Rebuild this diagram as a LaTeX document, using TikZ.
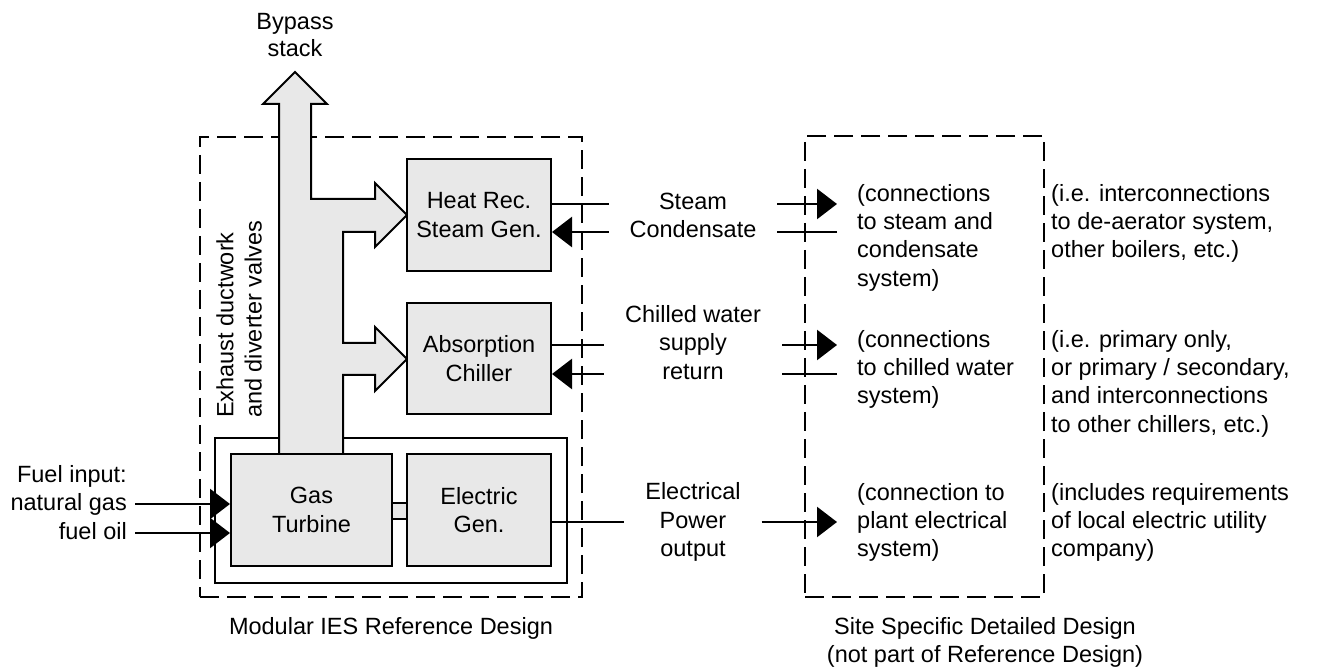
\documentclass[tikz,border=0pt]{standalone}
\usepackage{fontspec}
\setmainfont{Liberation Sans}
\usetikzlibrary{arrows.meta}
\definecolor{boxgray}{RGB}{232,232,232}

\begin{document}
\begin{tikzpicture}[x=1pt,y=-1pt,
  font=\fontsize{23.5}{28.3}\selectfont,
  unit/.style={draw,fill=boxgray,line width=2pt,align=center,inner sep=0pt,minimum width=144,minimum height=112},
  bound/.style={draw,dash pattern=on 19pt off 8pt,line width=2.2pt,inner sep=0pt},
  medium/.style={anchor=base,inner ysep=0pt,text height=17pt,text depth=5pt},
  note/.style={align=left,anchor=north west,inner ysep=0pt,inner xsep=20pt},
  flow/.style={line width=2.5pt},
  feed/.style={flow,-{Triangle[length=20pt,width=30pt]}}]
\useasboundingbox (0,0) rectangle (1318,668);

% design boundaries
\node[bound,minimum width=382,minimum height=460] (refdesign) at (391,367) {};
\node[bound,minimum width=239,minimum height=461] (sitedesign) at (924.5,366.5) {};
\node[anchor=north] (reflbl) at (391,614) {Modular IES Reference Design};
\node[anchor=north,align=center] (sitelbl) at (985,614) {Site Specific Detailed Design\\(not part of Reference Design)};

% skid and exhaust duct
\node[draw,line width=2pt,minimum width=352,minimum height=145] (skid) at (391,510.5) {};
\draw[fill=boxgray,line width=2pt] (279,454) -- (279,104) -- (263,104) -- (295,72) -- (327,104)
  -- (311,104) -- (311,199) -- (375,199) -- (375,183) -- (407,215) -- (375,247) -- (375,232)
  -- (343,232) -- (343,343) -- (375,343) -- (375,327) -- (407,359) -- (375,391) -- (375,375)
  -- (343,375) -- (343,454) -- cycle;
\node[anchor=north,align=center,font=\fontsize{23.5}{26.5}\selectfont] (bypass) at (295,10) {Bypass\\stack};
\node[rotate=90,anchor=west,align=left,inner sep=0pt] (exhaust) at (239,418) {Exhaust ductwork\\and diverter valves};

% equipment
\node[unit] (hrsg) at (479,215) {Heat Rec.\\Steam Gen.};
\node[unit,minimum height=111] (chiller) at (479,358.5) {Absorption\\Chiller};
\node[unit,minimum width=161] (gt) at (311.5,510) {Gas\\Turbine};
\node[unit] (egen) at (479,510) {Electric\\Gen.};
\node[unit,minimum width=15,minimum height=16] (coupling) at (399.5,511) {};

% fuel
\node[medium,anchor=base east,inner xsep=8pt] (fuel) at (135,482) {Fuel input:};
\node[medium,anchor=base east,inner xsep=8pt] (gas) at (135,510) {natural gas};
\node[medium,anchor=base east,inner xsep=8pt] (oil) at (135,539) {fuel oil};
\draw[feed] (gas.east) -- (gas.east -| gt.west);
\draw[feed] (oil.east) -- (oil.east -| gt.west);

% steam
\node[medium,minimum width=168] (steam) at (693,210) {Steam};
\node[medium,minimum width=168] (cond) at (693,238) {Condensate};
\node[note] (steamsys) at (837,184) {(connections\\to steam and\\condensate\\system)};
\node[note,inner xsep=0pt] (steamnote) at (1051,184) {(i.e. interconnections\\to de-aerator system,\\other boilers, etc.)};
\draw[flow] (steam.west -| hrsg.east) -- (steam.west);
\draw[feed] (steam.east) -- (steam.east -| steamsys.west);
\draw[flow] (cond.east -| steamsys.west) -- (cond.east);
\draw[feed] (cond.west) -- (cond.west -| hrsg.east);

% chilled water
\node[medium,minimum width=178] (chw) at (693,323) {Chilled water};
\node[medium,minimum width=178] (supply) at (693,351) {supply};
\node[medium,minimum width=178] (return) at (693,380) {return};
\node[note] (chwsys) at (837,330) {(connections\\to chilled water\\system)};
\node[note,inner xsep=0pt] (chwnote) at (1051,330) {(i.e. primary only,\\or primary / secondary,\\and interconnections\\to other chillers, etc.)};
\draw[flow] (supply.west -| chiller.east) -- (supply.west);
\draw[feed] (supply.east) -- (supply.east -| chwsys.west);
\draw[flow] (return.east -| chwsys.west) -- (return.east);
\draw[feed] (return.west) -- (return.west -| chiller.east);

% electrical
\node[medium,minimum width=137] (elec) at (693,499) {Electrical};
\node[medium,minimum width=137] (power) at (693,528) {Power};
\node[medium,minimum width=137] (output) at (693,556) {output};
\node[note] (elecsys) at (837,483) {(connection to\\plant electrical\\system)};
\node[note,inner xsep=0pt] (elecnote) at (1051,483) {(includes requirements\\of local electric utility\\company)};
\draw[flow] (power.west -| egen.east) -- (power.west);
\draw[feed] (power.east) -- (power.east -| elecsys.west);
\end{tikzpicture}
\end{document}
